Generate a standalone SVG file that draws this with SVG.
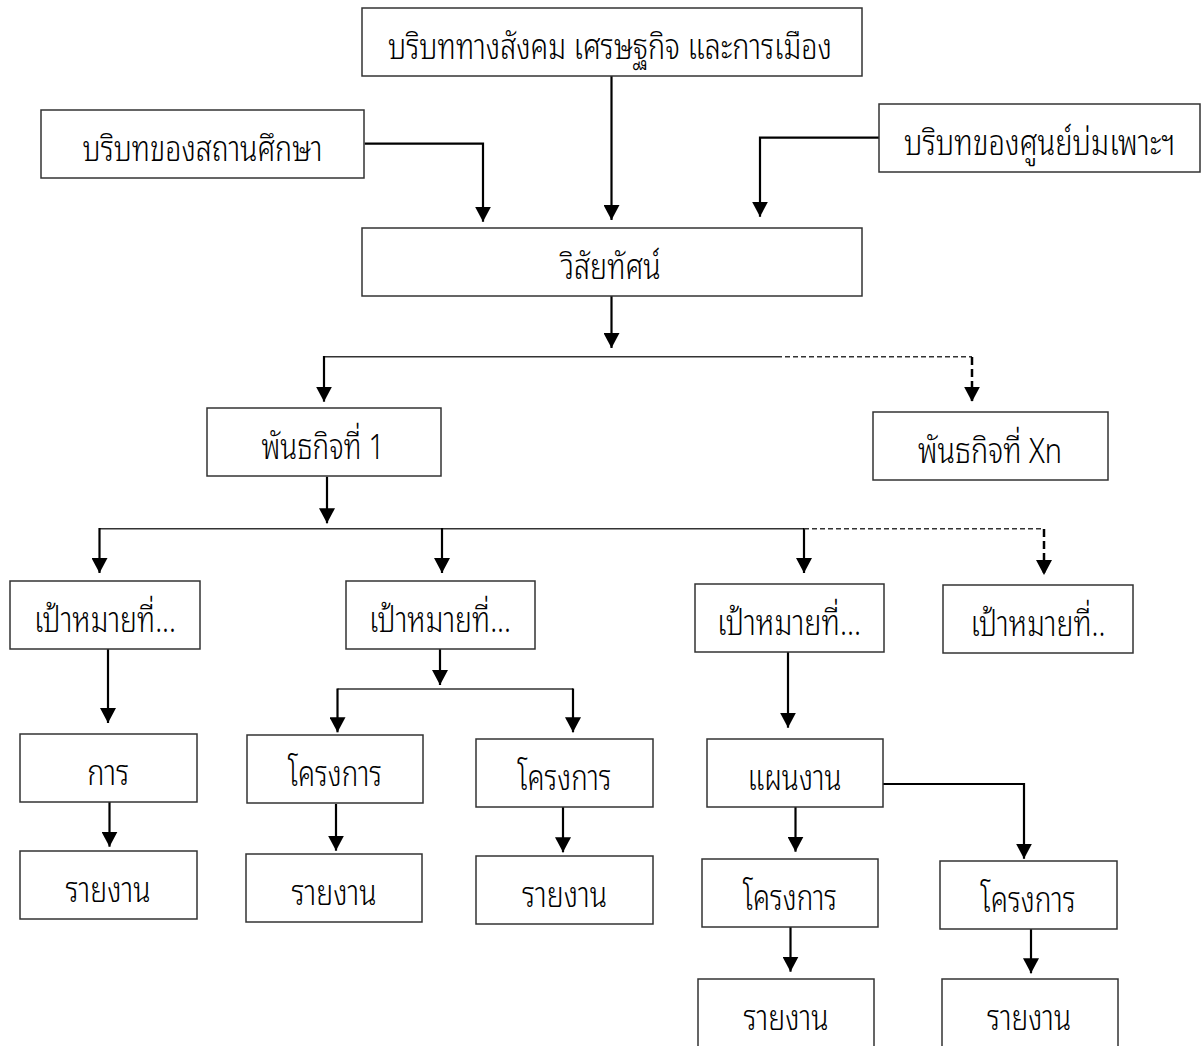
<svg xmlns="http://www.w3.org/2000/svg" width="1201" height="1046" viewBox="0 0 1201 1046">
<defs>
<marker id="ah" markerUnits="userSpaceOnUse" markerWidth="16" markerHeight="16" refX="15" refY="8" orient="auto"><path d="M0,0 L15,8 L0,16 z" fill="#000"/></marker>
<style>
.box{fill:#fff;stroke:#333;stroke-width:1.5}
.t{font-family:"Noto Sans Thai Looped","Noto Sans Thai","Noto Sans","DejaVu Sans",sans-serif;font-size:35px;font-weight:300;fill:#000;text-anchor:middle}
.c{fill:none;stroke:#000;stroke-width:2.2}
.h{fill:none;stroke:#333;stroke-width:1.4}
.dh{fill:none;stroke:#333;stroke-width:1.4;stroke-dasharray:5,3}
.dv{fill:none;stroke:#000;stroke-width:2.5;stroke-dasharray:8,4}
</style>
</defs>
<rect width="1201" height="1046" fill="#fff"/>
<g id="connectors">
<path class="c" d="M611.5,76 V220" marker-end="url(#ah)"/>
<path class="c" d="M364.7,143.7 H483 V221.7" marker-end="url(#ah)"/>
<path class="c" d="M879,137.7 H760 V216.7" marker-end="url(#ah)"/>
<path class="c" d="M611.5,296 V348" marker-end="url(#ah)"/>
<path class="h" d="M324,356.7 H777"/>
<path class="c" d="M324,356 V401.7" marker-end="url(#ah)"/>
<path class="dh" d="M777,356.7 H972"/>
<path class="dv" d="M972,357 V401.7" marker-end="url(#ah)"/>
<path class="c" d="M327,476.7 V523.3" marker-end="url(#ah)"/>
<path class="h" d="M99.5,528.7 H804"/>
<path class="c" d="M99.5,528 V573" marker-end="url(#ah)"/>
<path class="c" d="M442,528 V573" marker-end="url(#ah)"/>
<path class="c" d="M804,528 V573" marker-end="url(#ah)"/>
<path class="dh" d="M804,528.7 H1044"/>
<path class="dv" d="M1044,529 V575" marker-end="url(#ah)"/>
<path class="c" d="M108,649 V723" marker-end="url(#ah)"/>
<path class="c" d="M109.5,802 V846.7" marker-end="url(#ah)"/>
<path class="c" d="M440,649 V685" marker-end="url(#ah)"/>
<path class="h" d="M337.5,689 H573"/>
<path class="c" d="M337.5,688.5 V732.3" marker-end="url(#ah)"/>
<path class="c" d="M573,688.5 V732.3" marker-end="url(#ah)"/>
<path class="c" d="M336,804 V850.7" marker-end="url(#ah)"/>
<path class="c" d="M563,807 V852.3" marker-end="url(#ah)"/>
<path class="c" d="M788,652 V727.7" marker-end="url(#ah)"/>
<path class="c" d="M795.5,807 V851.7" marker-end="url(#ah)"/>
<path class="c" d="M883,784 H1024 V858.7" marker-end="url(#ah)"/>
<path class="c" d="M790.5,927 V971.7" marker-end="url(#ah)"/>
<path class="c" d="M1031,929 V973.3" marker-end="url(#ah)"/>
</g>
<g id="n-social"><rect class="box" x="362" y="8" width="500" height="68"/><text class="t" x="610" y="59" textLength="444" lengthAdjust="spacingAndGlyphs">บริบททางสังคม เศรษฐกิจ และการเมือง</text></g>
<g id="n-school"><rect class="box" x="41" y="110" width="323" height="68"/><text class="t" x="202.5" y="161" textLength="240" lengthAdjust="spacingAndGlyphs">บริบทของสถานศึกษา</text></g>
<g id="n-incubator"><rect class="box" x="879" y="104" width="321" height="68"/><text class="t" x="1039.5" y="155" textLength="271" lengthAdjust="spacingAndGlyphs">บริบทของศูนย์บ่มเพาะฯ</text></g>
<g id="n-vision"><rect class="box" x="362" y="228" width="500" height="68"/><text class="t" x="610.6" y="279" textLength="100" lengthAdjust="spacingAndGlyphs">วิสัยทัศน์</text></g>
<g id="n-mission1"><rect class="box" x="207" y="408" width="234" height="68"/><text class="t" x="323" y="459" textLength="123" lengthAdjust="spacingAndGlyphs">พันธกิจที่ 1</text></g>
<g id="n-missionxn"><rect class="box" x="873" y="412" width="235" height="68"/><text class="t" x="990" y="463" textLength="144" lengthAdjust="spacingAndGlyphs">พันธกิจที่ Xn</text></g>
<g id="n-goal1"><rect class="box" x="10" y="581" width="190" height="68"/><text class="t" x="105" y="632" textLength="142" lengthAdjust="spacingAndGlyphs">เป้าหมายที่...</text></g>
<g id="n-goal2"><rect class="box" x="346" y="581" width="189" height="68"/><text class="t" x="440" y="632" textLength="142" lengthAdjust="spacingAndGlyphs">เป้าหมายที่...</text></g>
<g id="n-goal3"><rect class="box" x="695" y="584" width="189" height="68"/><text class="t" x="789" y="635" textLength="144" lengthAdjust="spacingAndGlyphs">เป้าหมายที่...</text></g>
<g id="n-goal4"><rect class="box" x="943" y="585" width="190" height="68"/><text class="t" x="1038" y="636" textLength="135" lengthAdjust="spacingAndGlyphs">เป้าหมายที่..</text></g>
<g id="n-kan"><rect class="box" x="20" y="734" width="177" height="68"/><text class="t" x="108.3" y="785" textLength="42" lengthAdjust="spacingAndGlyphs">การ</text></g>
<g id="n-report1"><rect class="box" x="20" y="851" width="177" height="68"/><text class="t" x="108" y="902" textLength="85" lengthAdjust="spacingAndGlyphs">รายงาน</text></g>
<g id="n-projA"><rect class="box" x="247" y="735" width="176" height="68"/><text class="t" x="335" y="786" textLength="94" lengthAdjust="spacingAndGlyphs">โครงการ</text></g>
<g id="n-reportA"><rect class="box" x="246" y="854" width="176" height="68"/><text class="t" x="334" y="905" textLength="85" lengthAdjust="spacingAndGlyphs">รายงาน</text></g>
<g id="n-projB"><rect class="box" x="476" y="739" width="177" height="68"/><text class="t" x="564.5" y="790" textLength="94" lengthAdjust="spacingAndGlyphs">โครงการ</text></g>
<g id="n-reportB"><rect class="box" x="476" y="856" width="177" height="68"/><text class="t" x="564.5" y="907" textLength="85" lengthAdjust="spacingAndGlyphs">รายงาน</text></g>
<g id="n-plan"><rect class="box" x="707" y="739" width="176" height="68"/><text class="t" x="794.5" y="790" textLength="94" lengthAdjust="spacingAndGlyphs">แผนงาน</text></g>
<g id="n-projC"><rect class="box" x="702" y="859" width="176" height="68"/><text class="t" x="790" y="910" textLength="94" lengthAdjust="spacingAndGlyphs">โครงการ</text></g>
<g id="n-projD"><rect class="box" x="940" y="861" width="177" height="68"/><text class="t" x="1028" y="912" textLength="95" lengthAdjust="spacingAndGlyphs">โครงการ</text></g>
<g id="n-reportC"><rect class="box" x="698" y="979" width="176" height="68"/><text class="t" x="786" y="1030" textLength="85" lengthAdjust="spacingAndGlyphs">รายงาน</text></g>
<g id="n-reportD"><rect class="box" x="942" y="979" width="176" height="68"/><text class="t" x="1029" y="1030" textLength="84" lengthAdjust="spacingAndGlyphs">รายงาน</text></g>
</svg>
